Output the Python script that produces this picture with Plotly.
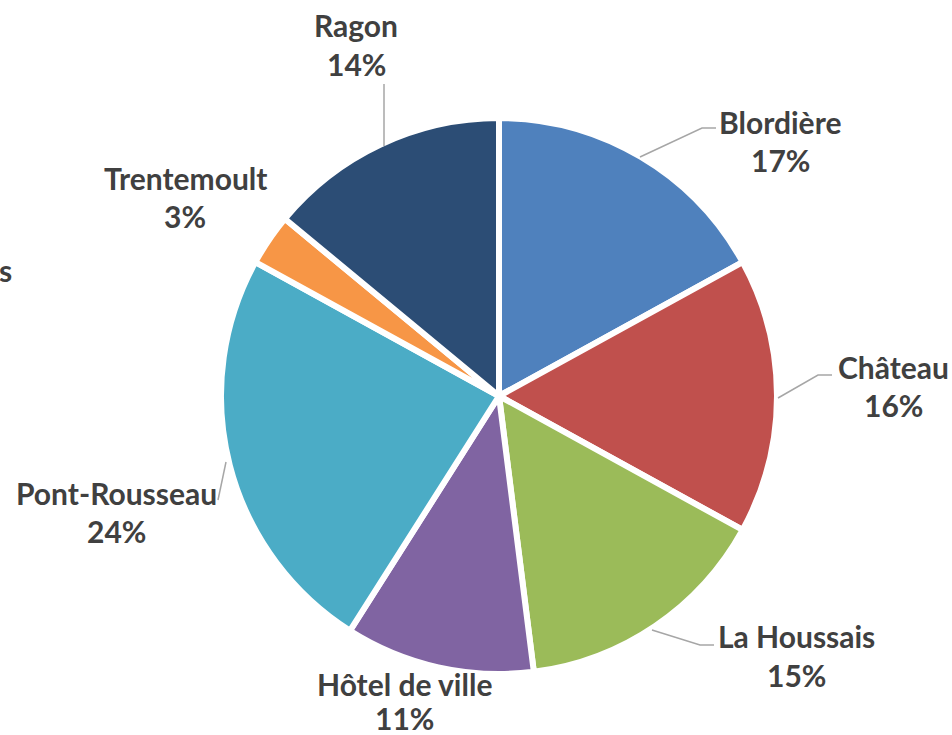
import plotly.graph_objects as go

# Data (clockwise from 12 o'clock)
quartiers = ["Blordière", "Château", "La Houssais", "Hôtel de ville",
             "Pont-Rousseau", "Trentemoult", "Ragon"]
parts = [17, 16, 15, 11, 24, 3, 14]
couleurs = ["#4F81BD", "#C0504D", "#9BBB59", "#8064A2",
            "#4BACC6", "#F79646", "#2C4D75"]

W, H = 952, 735
CX, CY, R = 499, 396, 278  # pie centre / radius in pixels


def px(x):
    return x / W


def py(y):
    return 1 - y / H


fig = go.Figure(go.Pie(
    labels=quartiers,
    values=parts,
    sort=False,
    direction="clockwise",
    rotation=0,
    textinfo="none",
    hoverinfo="label+percent",
    marker=dict(colors=couleurs, line=dict(color="white", width=6)),
    domain=dict(x=[px(CX - R), px(CX + R)], y=[py(CY + R), py(CY - R)]),
))

# label placement (name line centre x, name line y, percent line y)
label_pos = {
    "Ragon": (356, 25, 64),
    "Blordière": (780, 122, 160),
    "Château": (893, 367, 405),
    "La Houssais": (796, 636, 675),
    "Hôtel de ville": (404, 684, 718),
    "Pont-Rousseau": (116, 493, 531),
    "Trentemoult": (185, 178, 216),
}

font = dict(family="Lato, 'Open Sans', sans-serif", size=30, color="#404040")
annotations = []
for name, val in zip(quartiers, parts):
    x, y1, y2 = label_pos[name]
    for txt, y in ((name, y1), (f"{val}%", y2)):
        annotations.append(dict(
            x=px(x), y=py(y), xref="paper", yref="paper",
            text=f"<b>{txt}</b>", showarrow=False, font=font,
            xanchor="center", yanchor="middle",
        ))

# partially cropped label at the left edge
annotations.append(dict(
    x=px(14), y=py(270), xref="paper", yref="paper", text="<b>s</b>",
    showarrow=False, font=font, xanchor="right", yanchor="middle",
))

# leader lines
leaders = [
    [(384, 84), (384, 146)],
    [(716, 128), (702, 128), (640, 157)],
    [(832, 375), (818, 375), (778, 398)],
    [(714, 645), (700, 645), (652, 630)],
    [(218, 500), (226, 462)],
]
shapes = []
for pts in leaders:
    path = "M " + " L ".join(f"{px(x)},{py(y)}" for x, y in pts)
    shapes.append(dict(type="path", path=path, xref="paper", yref="paper",
                       line=dict(color="#A6A6A6", width=1.5)))

fig.update_layout(
    width=W, height=H,
    margin=dict(l=0, r=0, t=0, b=0),
    paper_bgcolor="white",
    plot_bgcolor="white",
    showlegend=False,
    annotations=annotations,
    shapes=shapes,
)

fig.write_html("out.html", config={"displayModeBar": False},
               post_script="document.body.style.margin='0';")
